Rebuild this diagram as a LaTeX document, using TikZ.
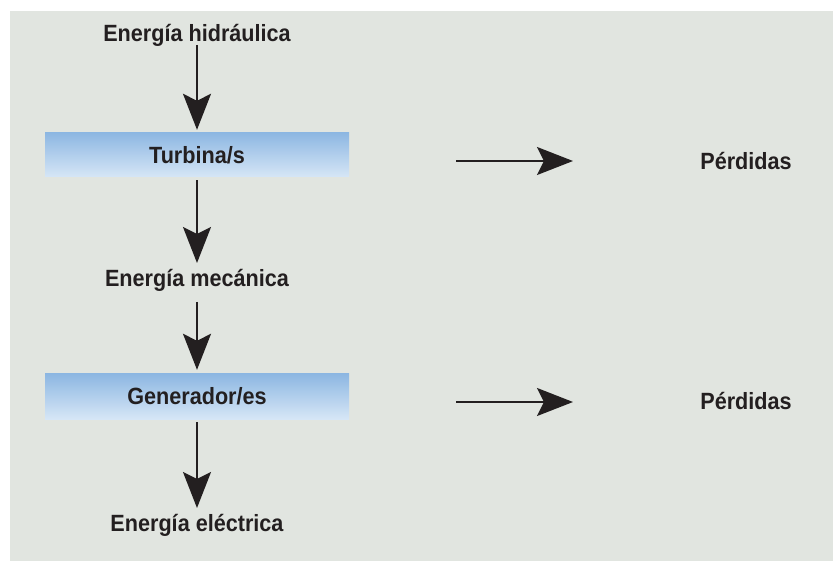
\documentclass[tikz,border=0pt]{standalone}
\usepackage{fontspec}
\setmainfont[FakeStretch=0.92]{Liberation Sans}
\usetikzlibrary{arrows.meta}
\definecolor{panel}{HTML}{E1E5E0}
\definecolor{ink}{HTML}{231F20}
\definecolor{boxtop}{HTML}{8DB7E2}
\definecolor{boxbot}{HTML}{D6E6F6}
\tikzset{
  lbl/.style={font=\fontsize{23.5}{26}\selectfont\bfseries, text=ink, inner sep=0pt},
  stagebox/.style={minimum width=304pt, minimum height=44pt, inner sep=0pt,
    top color=boxtop, bottom color=boxbot, draw=none,
    font=\fontsize{23.5}{26}\selectfont\bfseries, text=ink},
  arr/.style={draw=ink, line width=2pt,
    -{Stealth[length=36pt, width=28pt, inset=7pt]}},
}
\begin{document}
\begin{tikzpicture}[x=1pt, y=-1pt]
\useasboundingbox (0,0) rectangle (833,561);
\fill[panel] (10,11) rectangle (833,561);

\node[lbl] (hyd) at (197,35) {Energía hidráulica};
\node[stagebox] (turb) at (197,155) {Turbina/s};
\node[lbl] (mec) at (197,280) {Energía mecánica};
\node[stagebox, minimum height=45pt] (gen) at (197,396.5) {Generador/es};
\node[lbl] (ele) at (197,525) {Energía eléctrica};
\node[lbl] (per1) at (746,161) {Pérdidas};
\node[lbl] (per2) at (746,401) {Pérdidas};

\coordinate (l1s) at (456,161);
\coordinate (l1e) at (573,161);
\coordinate (l2s) at (456,402);
\coordinate (l2e) at (573,402);

\draw[arr, shorten <=10pt, shorten >=3pt] (hyd.center) -- (turb.north);
\draw[arr, shorten <=3pt, shorten >=17pt] (turb.south) -- (mec.center);
\draw[arr, shorten <=22pt, shorten >=4pt] (mec.center) -- (gen.north);
\draw[arr, shorten <=3pt, shorten >=17pt] (gen.south) -- (ele.center);
\draw[arr] (l1s) -- (l1e);
\draw[arr] (l2s) -- (l2e);
\end{tikzpicture}
\end{document}
